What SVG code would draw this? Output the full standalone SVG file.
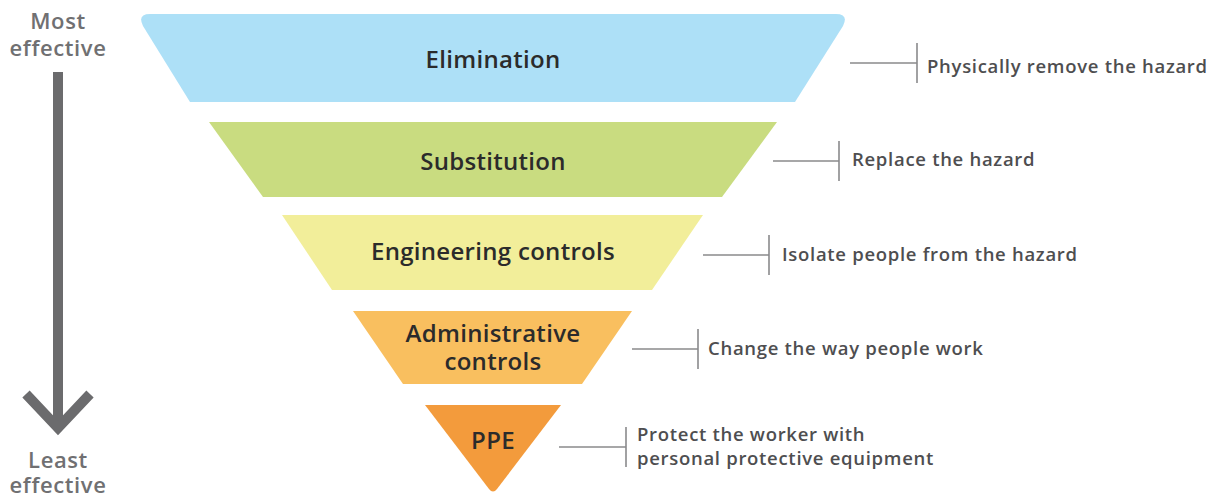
<svg xmlns="http://www.w3.org/2000/svg" width="1212" height="497" viewBox="0 0 1212 497">
<style>
.lbl{font-family:"Open Sans","Liberation Sans",sans-serif;font-weight:600;font-size:24px;letter-spacing:0.3px;fill:#2b2b2b;text-anchor:middle}
.desc{font-family:"Open Sans","Liberation Sans",sans-serif;font-weight:600;font-size:18.5px;letter-spacing:0.7px;fill:#4e4e50}
.side{font-family:"Open Sans","Liberation Sans",sans-serif;font-weight:600;font-size:22px;letter-spacing:0.6px;fill:#707072;text-anchor:middle}
.conn{stroke:#8a8a8c;stroke-width:1.6;fill:none}
</style>
<rect width="1212" height="497" fill="#ffffff"/>
<g id="axis">
<line x1="58" y1="72" x2="58" y2="428" stroke="#6b6b6d" stroke-width="10"/>
<polyline points="26,394 58,428 90,394" fill="none" stroke="#6b6b6d" stroke-width="10" stroke-linejoin="miter"/>
<text class="side" x="58" y="29">Most</text>
<text class="side" x="58" y="56">effective</text>
<text class="side" x="58" y="468">Least</text>
<text class="side" x="58" y="493">effective</text>
</g>
<g id="elimination">
<path d="M150,14 H836 Q849,14 843,26 L795,102 H190 L143,26 Q137,14 150,14 Z" fill="#ade0f7"/>
<text class="lbl" x="493" y="68">Elimination</text>
</g>
<g id="substitution">
<polygon points="209,122 777,122 722,197 263,197" fill="#c9dc80"/>
<text class="lbl" x="493" y="170">Substitution</text>
</g>
<g id="engineering">
<polygon points="282,215 703,215 652,290 332,290" fill="#f2ee9a"/>
<text class="lbl" x="493" y="260">Engineering controls</text>
</g>
<g id="administrative">
<polygon points="353,311 632,311 582,384 403,384" fill="#f9bf5f"/>
<text class="lbl" x="493" y="342">Administrative</text>
<text class="lbl" x="493" y="370">controls</text>
</g>
<g id="ppe">
<path d="M425,405 H561 L497,489 Q493,494 489,489 Z" fill="#f39b3c"/>
<text class="lbl" x="493" y="449">PPE</text>
</g>
<g id="connectors">
<path class="conn" d="M850,63 H917 M917,43 V83"/>
<path class="conn" d="M773,161 H839 M839,141 V181"/>
<path class="conn" d="M703,255 H769 M769,235 V275"/>
<path class="conn" d="M632,349 H698 M698,329 V369"/>
<path class="conn" d="M559,447 H626 M626,427 V467"/>
</g>
<g id="descriptions">
<text class="desc" x="927" y="73">Physically remove the hazard</text>
<text class="desc" x="852" y="166">Replace the hazard</text>
<text class="desc" x="782" y="261">Isolate people from the hazard</text>
<text class="desc" x="708" y="355">Change the way people work</text>
<text class="desc" x="637" y="441">Protect the worker with</text>
<text class="desc" x="637" y="465">personal protective equipment</text>
</g>
</svg>
